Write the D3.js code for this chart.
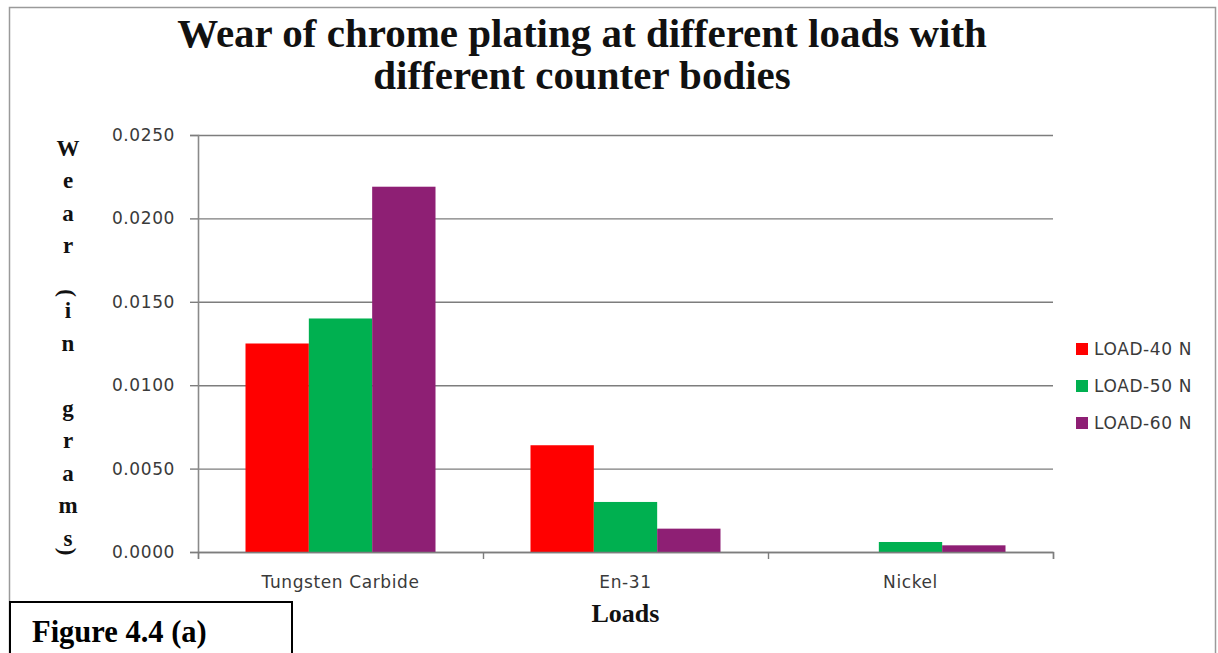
<!DOCTYPE html>
<html>
<head>
<meta charset="utf-8">
<script src="https://cdn.jsdelivr.net/npm/d3@7"></script>
<style>
  html, body { margin: 0; padding: 0; background: #fff; }
  svg { display: block; }
</style>
</head>
<body>
<svg id="chart" width="1218" height="653"></svg>
<script>
// Wear (grams) of chrome plating against three counter bodies at three loads
const categories = ["Tungsten Carbide", "En-31", "Nickel"];
const seriesNames = ["LOAD-40 N", "LOAD-50 N", "LOAD-60 N"];
const load40 = [0.0125, 0.0064, 0.0000];
const load50 = [0.0140, 0.0030, 0.0006];
const load60 = [0.0219, 0.0014, 0.0004];
const yTicks = [0, 0.005, 0.010, 0.015, 0.020, 0.025];
const seriesColors = ["#ff0000", "#00b050", "#8e1f74"];

const titleLines = ["Wear of chrome plating at different loads with", "different counter bodies"];
const yTitle = "Wear(in grams)";
const xTitle = "Loads";
const figureLabel = "Figure 4.4 (a)";

const series = [load40, load50, load60];
const rows = categories.map((c, i) => ({
  category: c,
  values: seriesNames.map((s, j) => ({ key: s, value: series[j][i], color: seriesColors[j] }))
}));

const svg = d3.select("#chart");
const plot = { left: 198, right: 1053, top: 135, bottom: 552 };
const sans = "'DejaVu Sans', Verdana, sans-serif";
const serif = "'Liberation Serif', 'Times New Roman', serif";
const sansSize = 17;
const sansSpacing = 0.6;

// outer chart frame
svg.append("rect")
  .attr("x", 9.5).attr("y", 7.5).attr("width", 1206).attr("height", 700)
  .attr("fill", "#fff").attr("stroke", "#9a9a9a").attr("stroke-width", 1.5);

const y = d3.scaleLinear().domain([0, 0.025]).range([plot.bottom, plot.top]);
const x0 = d3.scaleBand().domain(categories).range([plot.left, plot.right])
  .paddingInner(1 / 3).paddingOuter(1 / 6);
const x1 = d3.scaleBand().domain(seriesNames).range([0, x0.bandwidth()]);
const xEdges = d3.scaleLinear().domain([0, categories.length]).range([plot.left, plot.right]);

// horizontal gridlines
const grid = svg.append("g").attr("transform", `translate(${plot.left},0)`)
  .call(d3.axisLeft(y).tickValues(yTicks).tickSize(-(plot.right - plot.left)).tickFormat(""));
grid.select(".domain").remove();
grid.selectAll("line").attr("stroke", "#7d7d7d").attr("stroke-width", 1.4);

// y axis with tick labels
const yAxis = svg.append("g").attr("transform", `translate(${plot.left},0)`)
  .call(d3.axisLeft(y).tickValues(yTicks).tickSize(8).tickPadding(15).tickFormat(d3.format(".4f")));
yAxis.select(".domain").attr("stroke", "#8a8a8a").attr("stroke-width", 1.6);
yAxis.selectAll("line").attr("stroke", "#7d7d7d").attr("stroke-width", 1.4);
yAxis.selectAll("text").attr("font-family", sans).attr("font-size", sansSize)
  .attr("letter-spacing", sansSpacing).attr("fill", "#3a3a3a");

// bars
const groups = svg.append("g").selectAll("g").data(rows).join("g")
  .attr("transform", d => `translate(${x0(d.category)},0)`);
groups.selectAll("rect").data(d => d.values).join("rect")
  .attr("x", d => x1(d.key))
  .attr("y", d => y(d.value))
  .attr("width", x1.bandwidth())
  .attr("height", d => y(0) - y(d.value))
  .attr("fill", d => d.color);

// x axis line with category boundary ticks
const xAxis = svg.append("g").attr("transform", `translate(0,${plot.bottom})`)
  .call(d3.axisBottom(xEdges).tickValues(d3.range(categories.length + 1)).tickSize(7).tickFormat(""));
xAxis.select(".domain").attr("stroke", "#7d7d7d").attr("stroke-width", 1.4);
xAxis.selectAll("line").attr("stroke", "#7d7d7d").attr("stroke-width", 1.4);

// category labels
const xLabels = svg.append("g").attr("transform", `translate(0,${plot.bottom})`)
  .call(d3.axisBottom(x0).tickSize(0).tickPadding(24));
xLabels.select(".domain").remove();
xLabels.selectAll("text").attr("font-family", sans).attr("font-size", sansSize)
  .attr("letter-spacing", sansSpacing).attr("fill", "#3a3a3a");

// chart title
svg.append("text")
  .attr("x", 582).attr("y", 47)
  .attr("text-anchor", "middle")
  .attr("font-family", serif).attr("font-weight", "bold").attr("font-size", 41)
  .attr("fill", "#111")
  .selectAll("tspan").data(titleLines).join("tspan")
  .attr("x", 582).attr("dy", (d, i) => i === 0 ? 0 : 42)
  .text(d => d);

// vertical stacked y-axis title; parentheses are turned sideways
const yTitleChars = yTitle.split("");
const yTitleStep = 32.5;
const yTitleG = svg.append("g").attr("font-family", serif).attr("font-weight", "bold")
  .attr("font-size", 23).attr("fill", "#111");
yTitleChars.forEach((ch, i) => {
  const cy = 148 + i * yTitleStep;
  if (ch === " ") return;
  if (ch === "(" || ch === ")") {
    const py = ch === "(" ? cy + 15 : cy - 19;
    yTitleG.append("text")
      .attr("transform", `translate(68,${py}) rotate(90)`)
      .attr("text-anchor", "middle").attr("dy", "0.33em")
      .text(ch);
  } else {
    yTitleG.append("text")
      .attr("x", 68).attr("y", cy).attr("dy", "0.33em")
      .attr("text-anchor", "middle")
      .text(ch);
  }
});

// x-axis title
svg.append("text")
  .attr("x", (plot.left + plot.right) / 2).attr("y", 622)
  .attr("text-anchor", "middle")
  .attr("font-family", serif).attr("font-weight", "bold").attr("font-size", 26)
  .attr("fill", "#111")
  .text(xTitle);

// legend
const legend = svg.append("g").attr("transform", "translate(1076,349)");
const items = legend.selectAll("g").data(seriesNames).join("g")
  .attr("transform", (d, i) => `translate(0,${i * 37})`);
items.append("rect")
  .attr("x", 0).attr("y", -6).attr("width", 12).attr("height", 12)
  .attr("fill", (d, i) => seriesColors[i]);
items.append("text")
  .attr("x", 18).attr("dy", "0.36em")
  .attr("font-family", sans).attr("font-size", sansSize)
  .attr("letter-spacing", sansSpacing).attr("fill", "#3a3a3a")
  .text(d => d);

// figure caption box
svg.append("rect")
  .attr("x", 10).attr("y", 602).attr("width", 282).attr("height", 80)
  .attr("fill", "#fff").attr("stroke", "#000").attr("stroke-width", 2);
svg.append("text")
  .attr("x", 32).attr("y", 642)
  .attr("font-family", serif).attr("font-weight", "bold").attr("font-size", 30.5)
  .attr("fill", "#000")
  .text(figureLabel);
</script>
</body>
</html>
